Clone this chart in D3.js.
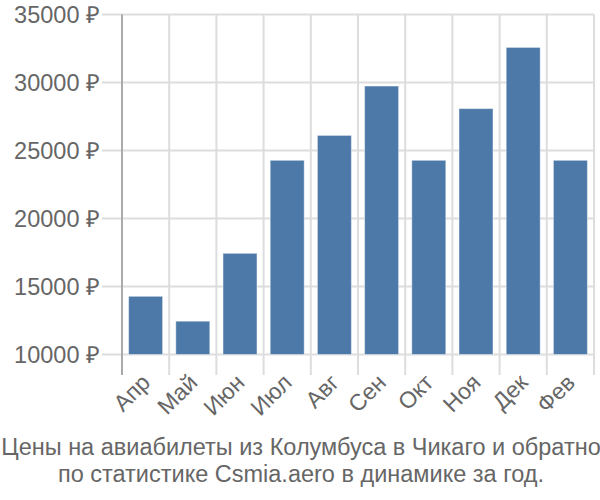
<!DOCTYPE html>
<html><head><meta charset="utf-8">
<script src="https://cdn.jsdelivr.net/npm/d3@7"></script>
<style>body{margin:0;background:#fff;} svg{display:block;font-family:"Liberation Sans",Arial,sans-serif;}</style>
</head><body>
<svg id="c" width="600" height="500"></svg>
<script>
const months = ["Апр","Май","Июн","Июл","Авг","Сен","Окт","Ноя","Дек","Фев"];
const prices = [14280,12450,17440,24280,26110,29740,24280,28080,32580,24280];
const yTicks = [10000,15000,20000,25000,30000,35000];
const caption = ["Цены на авиабилеты из Колумбуса в Чикаго и обратно","по статистике Csmia.aero в динамике за год."];

const svg = d3.select("#c");
const mLeft = 122, mRight = 594, mTop = 14.5, mBottom = 354.5;
const x = d3.scaleBand().domain(months).range([mLeft, mRight]).paddingInner(0).paddingOuter(0);
const y = d3.scaleLinear().domain([10000, 35000]).range([mBottom, mTop]);

// horizontal grid
svg.append("g").selectAll("line").data(yTicks).join("line")
  .attr("x1", 102).attr("x2", mRight).attr("y1", d => y(d)).attr("y2", d => y(d))
  .attr("stroke", "#dddddd").attr("stroke-width", 2);
// vertical grid
const bounds = months.map(m => x(m)).concat([mRight]);
svg.append("g").selectAll("line").data(bounds.slice(1)).join("line")
  .attr("x1", d => d).attr("x2", d => d).attr("y1", mTop).attr("y2", 375)
  .attr("stroke", "#dddddd").attr("stroke-width", 2);
// left axis line
svg.append("line").attr("x1", mLeft).attr("x2", mLeft).attr("y1", mTop).attr("y2", 375)
  .attr("stroke", "#aaaaaa").attr("stroke-width", 2);

// y labels
svg.append("g").selectAll("text").data(yTicks).join("text")
  .attr("x", 100).attr("y", d => y(d)).attr("dy", "0.35em")
  .attr("text-anchor", "end").attr("fill", "#666").attr("font-size", 23.5)
  .text(d => d + " ₽");

// bars
const bw = 34;
svg.append("g").selectAll("rect").data(prices).join("rect")
  .attr("x", (d,i) => x(months[i]) + x.bandwidth()/2 - bw/2)
  .attr("width", bw)
  .attr("y", d => y(d))
  .attr("height", d => y(10000) - y(d))
  .attr("fill", "#4c79a8")
  .attr("stroke", "rgba(255,255,255,0.45)").attr("stroke-width", 1);

// x labels
svg.append("g").selectAll("text").data(months).join("text")
  .attr("transform", d => `translate(${x(d) + x.bandwidth()/2 + 6},${384}) rotate(-45)`)
  .attr("text-anchor", "end").attr("fill", "#666").attr("font-size", 23)
  .text(d => d);

// caption
svg.append("g").selectAll("text").data(caption).join("text")
  .attr("x", 301).attr("y", (d,i) => 455 + i*27)
  .attr("text-anchor", "middle").attr("fill", "#666").attr("font-size", 23.5)
  .text(d => d);
</script>
</body></html>
